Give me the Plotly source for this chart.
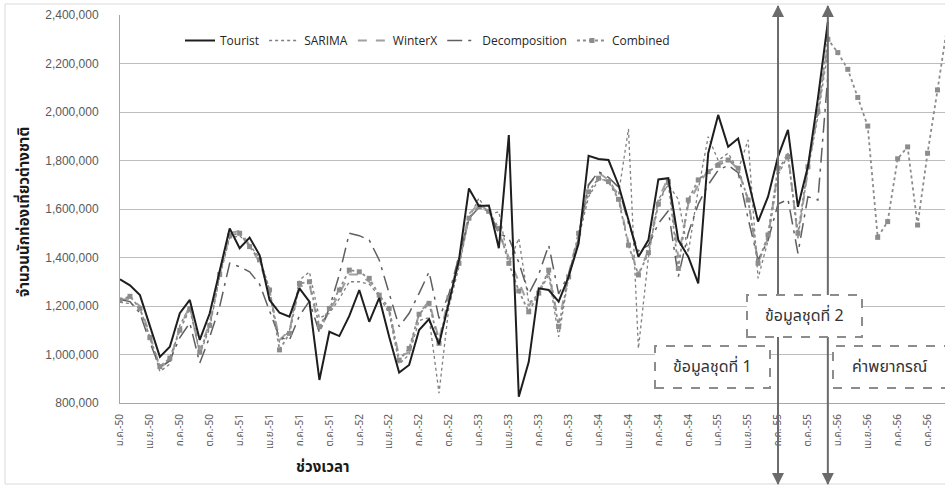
import plotly.graph_objects as go

# Monthly index: 0 = ม.ค.-50 ... 83 = ธ.ค.-56
years = ["50", "51", "52", "53", "54", "55", "56"]
quarter_months = ["ม.ค.", "เม.ย.", "ก.ค.", "ต.ค."]
tick_labels = [f"{m}-{y}" for y in years for m in quarter_months]

# Actual number of foreign tourists (Jan 50 - Dec 55)
tourist = [1310000, 1285000, 1245000, 1120000, 990000, 1032000, 1170000, 1225000, 1060000, 1170000, 1348000, 1520000,
           1438000, 1482000, 1410000, 1225000, 1172000, 1156000, 1273000, 1218000, 895000, 1094000, 1076000, 1159000,
           1266000, 1135000, 1234000, 1073000, 926000, 957000, 1101000, 1146000, 1042000, 1215000, 1390000, 1685000,
           1612000, 1614000, 1438000, 1905000, 826000, 970000, 1273000, 1266000, 1218000, 1321000, 1458000, 1819000,
           1806000, 1802000, 1699000, 1555000, 1403000, 1472000, 1722000, 1727000, 1472000, 1403000, 1293000, 1830000,
           1988000, 1857000, 1891000, 1720000, 1548000, 1651000, 1816000, 1926000, 1609000, 1775000, 2055000, 2372000]

sarima = [1215000, 1210000, 1190000, 1070000, 930000, 960000, 1120000, 1200000, 1000000, 1110000, 1320000, 1480000,
          1490000, 1450000, 1400000, 1270000, 1050000, 1100000, 1307000, 1341000, 1150000, 1170000, 1230000, 1300000,
          1300000, 1290000, 1240000, 1170000, 960000, 1000000, 1140000, 1152000, 841000, 1200000, 1360000, 1560000,
          1645000, 1575000, 1589000, 1376000, 1479000, 1212000, 1250000, 1330000, 1073000, 1320000, 1480000, 1650000,
          1720000, 1720000, 1660000, 1930000, 1025000, 1400000, 1640000, 1700000, 1640000, 1420000, 1680000, 1898000,
          1800000, 1830000, 1760000, 1885000, 1314000, 1470000, 1740000, 1820000, 1480000, 1760000, 1980000, 2250000]

winterx = [1225000, 1230000, 1200000, 1080000, 945000, 975000, 1110000, 1200000, 1020000, 1130000, 1340000, 1500000,
           1510000, 1450000, 1380000, 1260000, 1060000, 1100000, 1280000, 1290000, 1100000, 1180000, 1250000, 1330000,
           1330000, 1300000, 1240000, 1180000, 990000, 1010000, 1170000, 1220000, 1060000, 1240000, 1390000, 1580000,
           1620000, 1590000, 1500000, 1400000, 1300000, 1200000, 1260000, 1340000, 1130000, 1330000, 1500000, 1700000,
           1750000, 1720000, 1650000, 1460000, 1330000, 1430000, 1640000, 1730000, 1400000, 1620000, 1700000, 1760000,
           1790000, 1810000, 1760000, 1640000, 1380000, 1480000, 1760000, 1830000, 1480000, 1760000, 2000000, 2280000]

decomposition = [1227000, 1218000, 1170000, 1050000, 945000, 975000, 1070000, 1130000, 965000, 1073000, 1198000, 1376000,
                 1362000, 1341000, 1290000, 1180000, 1070000, 1060000, 1160000, 1220000, 1090000, 1192000, 1330000, 1500000,
                 1490000, 1472000, 1390000, 1252000, 1115000, 1170000, 1252000, 1341000, 1149000, 1250000, 1400000, 1560000,
                 1606000, 1590000, 1500000, 1480000, 1380000, 1250000, 1330000, 1451000, 1250000, 1330000, 1480000, 1700000,
                 1754000, 1730000, 1690000, 1540000, 1427000, 1450000, 1540000, 1593000, 1321000, 1500000, 1620000, 1700000,
                 1760000, 1780000, 1750000, 1560000, 1390000, 1470000, 1620000, 1640000, 1417000, 1651000, 1637000, 2150000]

# Combined model: fitted values followed by the 12-month forecast for year 56
combined = [1225000, 1240000, 1190000, 1070000, 950000, 985000, 1100000, 1190000, 1010000, 1120000, 1330000, 1490000,
            1500000, 1445000, 1390000, 1266000, 1019000, 1087000, 1293000, 1300000, 1115000, 1190000, 1266000, 1348000,
            1341000, 1314000, 1245000, 1190000, 977000, 1025000, 1166000, 1211000, 1046000, 1234000, 1376000, 1562000,
            1610000, 1590000, 1520000, 1376000, 1262000, 1176000, 1253000, 1348000, 1115000, 1320000, 1500000, 1671000,
            1727000, 1713000, 1640000, 1451000, 1328000, 1420000, 1620000, 1713000, 1355000, 1637000, 1720000, 1754000,
            1780000, 1802000, 1768000, 1637000, 1376000, 1493000, 1768000, 1816000, 1500000, 1774000, 2001000, 2300000,
            2245000, 2176000, 2060000, 1942000, 1483000, 1548000, 1807000, 1856000, 1534000, 1830000, 2091000, 2360000]

THAI = "Noto Sans Thai, Tahoma, DejaVu Sans, Liberation Sans, sans-serif"
LAT = "Liberation Sans, Arial, sans-serif"

fig = go.Figure()

def months(values):
    return list(range(len(values)))

fig.add_trace(go.Scatter(x=months(sarima), y=sarima, name="SARIMA", mode="lines",
                         line=dict(color="#7f7f7f", width=1.3, dash="dot"), legendrank=2))
fig.add_trace(go.Scatter(x=months(winterx), y=winterx, name="WinterX", mode="lines",
                         line=dict(color="#a0a0a0", width=2, dash="dash"), legendrank=3))
fig.add_trace(go.Scatter(x=months(decomposition), y=decomposition, name="Decomposition", mode="lines",
                         line=dict(color="#5f5f5f", width=1.5, dash="longdashdot"), legendrank=4))
fig.add_trace(go.Scatter(x=months(combined), y=combined, name="Combined", mode="lines+markers",
                         line=dict(color="#8c8c8c", width=1.8, dash="dot"),
                         marker=dict(symbol="square", size=5, color="#8c8c8c"), legendrank=5))
fig.add_trace(go.Scatter(x=months(tourist), y=tourist, name="Tourist", mode="lines",
                         line=dict(color="#1e1e1e", width=2), legendrank=1))

# pixel helpers for the 945x486 canvas (plot area 120..945 x 15..403)
def px(xp):
    return (xp - 120) / 825.0

def py(yp):
    return (403 - yp) / 388.0

shapes = []
# outer chart frame
shapes.append(dict(type="rect", xref="paper", yref="paper", x0=px(5), x1=px(960), y0=py(484), y1=py(4),
                   line=dict(color="#d9d9d9", width=1), layer="below"))
# period separators
for m in (66, 71):
    shapes.append(dict(type="line", xref="x", yref="paper", x0=m, x1=m, y0=py(484), y1=py(6),
                       line=dict(color="#6b6b6b", width=2), layer="above"))
# dashed label boxes
boxes = [
    (747, 862, 295, 337, "ข้อมูลชุดที่ 2"),
    (655, 770, 346, 388, "ข้อมูลชุดที่ 1"),
    (833, 980, 346, 388, "ค่าพยากรณ์"),
]
annotations = []
for x0, x1, y0, y1, label in boxes:
    shapes.append(dict(type="rect", xref="paper", yref="paper", x0=px(x0), x1=px(x1), y0=py(y1), y1=py(y0),
                       line=dict(color="#8c8c8c", width=2, dash="dash"), fillcolor="white", opacity=1,
                       layer="above"))
    cx = (x0 + x1) / 2 if x1 < 945 else x0 + 56
    annotations.append(dict(xref="paper", yref="paper", x=px(cx), y=py((y0 + y1) / 2), text=label,
                            xanchor="center", yanchor="middle",
                            showarrow=False, font=dict(family=THAI, size=16, color="#333333")))

# arrow heads at both ends of the separators
for m in (66, 71):
    annotations.append(dict(xref="x", yref="paper", x=m, y=py(5), ax=0, ay=12, text="", showarrow=True,
                            arrowhead=2, arrowsize=1.2, arrowwidth=2, arrowcolor="#6b6b6b"))
    annotations.append(dict(xref="x", yref="paper", x=m, y=py(485), ax=0, ay=-12, text="", showarrow=True,
                            arrowhead=2, arrowsize=1.2, arrowwidth=2, arrowcolor="#6b6b6b"))

annotations.append(dict(xref="paper", yref="paper", x=px(24), y=py(212), text="<b>จำนวนนักท่องเที่ยวต่างชาติ</b>",
                        xanchor="center", yanchor="middle",
                        textangle=-90, showarrow=False, font=dict(family=THAI, size=15, color="#1a1a1a")))
annotations.append(dict(xref="paper", yref="paper", x=px(323), y=py(467), text="<b>ช่วงเวลา</b>",
                        xanchor="center", yanchor="middle",
                        showarrow=False, font=dict(family=THAI, size=15, color="#1a1a1a")))

fig.update_layout(
    width=945, height=486,
    margin=dict(l=120, r=0, t=15, b=83),
    paper_bgcolor="white", plot_bgcolor="white",
    showlegend=True,
    legend=dict(orientation="h", x=px(180), y=py(26), xanchor="left", yanchor="top",
                font=dict(family="Open Sans, Liberation Sans, sans-serif", size=12, color="#262626"),
                bgcolor="rgba(0,0,0,0)", itemwidth=30, traceorder="normal"),
    shapes=shapes, annotations=annotations,
)
fig.update_xaxes(range=[0, 82.75], tickmode="array", tickvals=list(range(0, 84, 3)), ticktext=tick_labels,
                 tickangle=-90, tickfont=dict(family=THAI, size=10, color="#595959"),
                 showgrid=False, zeroline=False, showline=True, linecolor="#a6a6a6", linewidth=1,
                 ticks="", ticklabelstandoff=6)
fig.update_yaxes(range=[800000, 2400000], dtick=200000, tickformat=",", tickfont=dict(family=LAT, size=12, color="#595959"),
                 showgrid=True, gridcolor="#bdbdbd", gridwidth=1, zeroline=False, showline=True,
                 linecolor="#a6a6a6", linewidth=1, ticks="", ticklabelstandoff=18)

fig.write_html("out.html")
